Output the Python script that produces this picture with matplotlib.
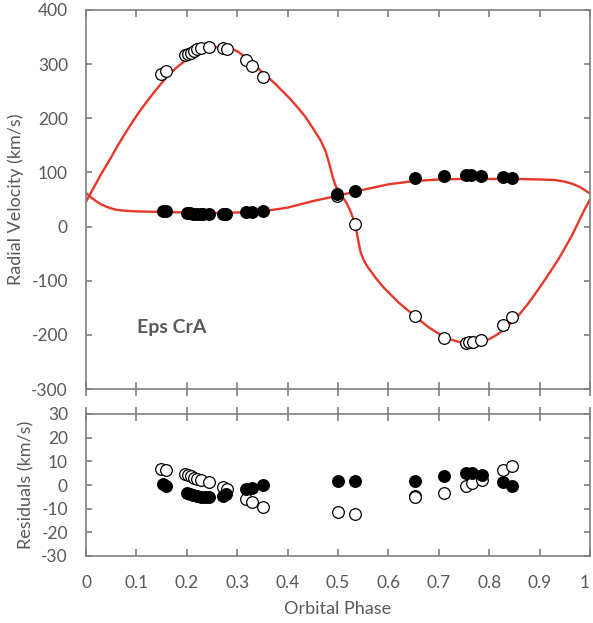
import matplotlib
matplotlib.use("Agg")
import matplotlib.pyplot as plt

plt.rcParams['font.family'] = ['Lato', 'DejaVu Sans']

# ---------------- data ----------------
# Radial velocities, primary (filled)
ph_p = [0.152, 0.158, 0.200, 0.206, 0.213, 0.221, 0.229, 0.233, 0.244,
        0.271, 0.277, 0.318, 0.330, 0.352,
        0.498, 0.533, 0.652, 0.711, 0.754, 0.764, 0.784, 0.828, 0.846]
rv_p = [29, 28, 25, 25, 24, 24, 23, 23, 23,
        23, 24, 26, 27, 29,
        60, 66, 89, 94, 96, 96, 94, 91, 89]

# Radial velocities, secondary (open)
ph_s = [0.149, 0.158, 0.196, 0.203, 0.208, 0.214, 0.221, 0.229, 0.244,
        0.271, 0.279, 0.318, 0.330, 0.352,
        0.498, 0.533, 0.652, 0.711, 0.754, 0.760, 0.768, 0.784, 0.828, 0.846]
rv_s = [281, 288, 317, 319, 321, 325, 328, 330, 332,
        329, 328, 307, 296, 276,
        56, 5, -166, -206, -215, -214, -214, -209, -182, -167]

# Model curves
mod_ph_s = [0.000, 0.010, 0.020, 0.030, 0.045, 0.060, 0.075, 0.090, 0.105, 0.120,
            0.135, 0.150, 0.165, 0.180, 0.195, 0.210, 0.225, 0.240, 0.255, 0.270,
            0.285, 0.300, 0.315, 0.330, 0.345, 0.360, 0.375, 0.390, 0.405, 0.420,
            0.435, 0.450, 0.465, 0.475, 0.480, 0.485, 0.490, 0.495, 0.500, 0.508,
            0.516, 0.524, 0.530, 0.535, 0.540, 0.545, 0.552, 0.560, 0.575, 0.590,
            0.605, 0.620, 0.635, 0.650, 0.665, 0.680, 0.695, 0.710, 0.725, 0.740,
            0.755, 0.770, 0.785, 0.800, 0.815, 0.830, 0.845, 0.860, 0.875, 0.890,
            0.905, 0.920, 0.935, 0.950, 0.965, 0.980, 0.990, 1.000]
mod_rv_s = [46, 63, 80, 97, 120, 145, 168, 190, 211, 230,
            248, 265, 281, 294, 305, 315, 322, 328, 331, 332,
            330, 324, 314, 302, 289, 277, 264, 250, 236, 220,
            203, 182, 160, 140, 125, 108, 90, 76, 67, 56,
            45, 30, 15, 0, -25, -48, -64, -76, -95, -112,
            -126, -140, -152, -163, -175, -186, -195, -203, -209, -213,
            -215, -215, -213, -208, -200, -190, -177, -162, -145, -126,
            -106, -85, -64, -40, -15, 14, 33, 50]

mod_ph_p = [0.000, 0.010, 0.020, 0.030, 0.045, 0.060, 0.080, 0.100, 0.150, 0.200,
            0.250, 0.300, 0.350, 0.400, 0.450, 0.500, 0.550, 0.600, 0.650, 0.700,
            0.750, 0.800, 0.850, 0.900, 0.930, 0.950, 0.965, 0.980, 0.990, 1.000]
mod_rv_p = [62, 54, 47, 41, 35, 31, 29, 28, 27, 26,
            25, 26, 28, 35, 47, 57, 68, 78, 84, 87,
            88, 88, 88, 87, 86, 83, 79, 73, 67, 61]

# Residuals
res_ph_p = [0.152, 0.158, 0.200, 0.206, 0.213, 0.221, 0.229, 0.237, 0.244,
            0.271, 0.277, 0.318, 0.330, 0.352,
            0.500, 0.533, 0.653, 0.711, 0.754, 0.765, 0.785, 0.828, 0.845]
res_p = [0.5, -0.5, -3.5, -4.0, -4.4, -4.8, -5.0, -5.2, -5.2,
         -4.5, -4.0, -1.8, -1.1, 0.0,
         1.8, 1.8, 1.8, 3.9, 5.2, 4.9, 4.2, 1.4, -0.4]

res_ph_s = [0.149, 0.158, 0.196, 0.203, 0.208, 0.214, 0.221, 0.229, 0.244,
            0.271, 0.279, 0.318, 0.330, 0.352,
            0.500, 0.533, 0.652, 0.653, 0.711, 0.754, 0.765, 0.785, 0.828, 0.845]
res_s = [6.6, 6.3, 4.5, 4.2, 3.6, 3.1, 2.4, 2.0, 1.4,
         -1.0, -1.8, -5.9, -7.0, -9.4,
         -11.5, -12.4, -4.6, -5.0, -3.5, -0.4, 0.7, 2.1, 6.3, 8.0]

x_ticks = [0, 0.1, 0.2, 0.3, 0.4, 0.5, 0.6, 0.7, 0.8, 0.9, 1]
x_ticklabels = ['0', '0.1', '0.2', '0.3', '0.4', '0.5', '0.6', '0.7', '0.8', '0.9', '1']
rv_ticks = [-300, -200, -100, 0, 100, 200, 300, 400]
res_ticks = [-30, -20, -10, 0, 10, 20, 30]

# ---------------- style ----------------
TXT = '#595959'
SP = '#7f7f7f'
RED = '#e8372a'
FS = 12.5
LFS = 13

fig = plt.figure(figsize=(5.93, 6.23), dpi=100)
W, H = 593, 623
def rect(l, t, r, b):
    return [l / W, 1 - b / H, (r - l) / W, (b - t) / H]

ax = fig.add_axes(rect(86, 10, 590, 389))
ax2 = fig.add_axes(rect(86, 414, 590, 556))

for a in (ax, ax2):
    for s in a.spines.values():
        s.set_color(SP)
        s.set_linewidth(1.2)
    a.set_xlim(0, 1)
    a.set_xticks(x_ticks)
    a.tick_params(colors=SP, labelcolor=TXT, labelsize=FS, width=1.2)
    a.tick_params(axis='y', direction='in', length=4, left=True, right=True, pad=13)

# ---- top panel ----
ax.plot(mod_ph_s, mod_rv_s, color=RED, lw=1.7, zorder=2, solid_joinstyle='round')
ax.plot(mod_ph_p, mod_rv_p, color=RED, lw=1.7, zorder=2, solid_joinstyle='round')
ax.plot(ph_s, rv_s, 'o', ms=8.4, mfc='white', mec='black', mew=0.9, zorder=3)
ax.plot(ph_p, rv_p, 'o', ms=8.4, mfc='black', mec='black', mew=0.9, zorder=4)
ax.set_ylim(-300, 400)
ax.set_yticks(rv_ticks)
ax.set_yticklabels([str(v) for v in rv_ticks])
ax.tick_params(axis='x', direction='inout', length=10, bottom=True, top=False,
               labelbottom=False)
sec = ax.secondary_xaxis('top')
sec.set_xticks(x_ticks)
sec.tick_params(direction='in', length=5, colors=SP, width=1.2, labeltop=False)
sec.spines['top'].set_visible(False)
ax.set_ylabel('Radial Velocity (km/s)', color=TXT, fontsize=LFS, labelpad=5)
ax.text(0.101, -187, 'Eps CrA', color=TXT, fontsize=14, fontweight='bold',
        ha='left', va='center')

# ---- residual panel ----
ax2.plot(res_ph_s, res_s, 'o', ms=8.4, mfc='white', mec='black', mew=0.9, zorder=3)
ax2.plot(res_ph_p, res_p, 'o', ms=8.4, mfc='black', mec='black', mew=0.9, zorder=4)
ax2.set_ylim(-30, 30)
ax2.set_yticks(res_ticks)
ax2.set_yticklabels([str(v) for v in res_ticks])
ax2.set_xticklabels(x_ticklabels)
ax2.tick_params(axis='x', direction='in', length=5, bottom=True, top=False, pad=14)
ax2.get_xticklabels()[-1].set_horizontalalignment('right')
sec2 = ax2.secondary_xaxis('top')
sec2.set_xticks(x_ticks)
sec2.tick_params(direction='inout', length=10, colors=SP, width=1.2, labeltop=False)
sec2.spines['top'].set_visible(False)
ax2.set_ylabel('Residuals (km/s)', color=TXT, fontsize=LFS, labelpad=5)
ax2.set_xlabel('Orbital Phase', color=TXT, fontsize=LFS, labelpad=7)

fig.savefig('out.png', dpi=100)
